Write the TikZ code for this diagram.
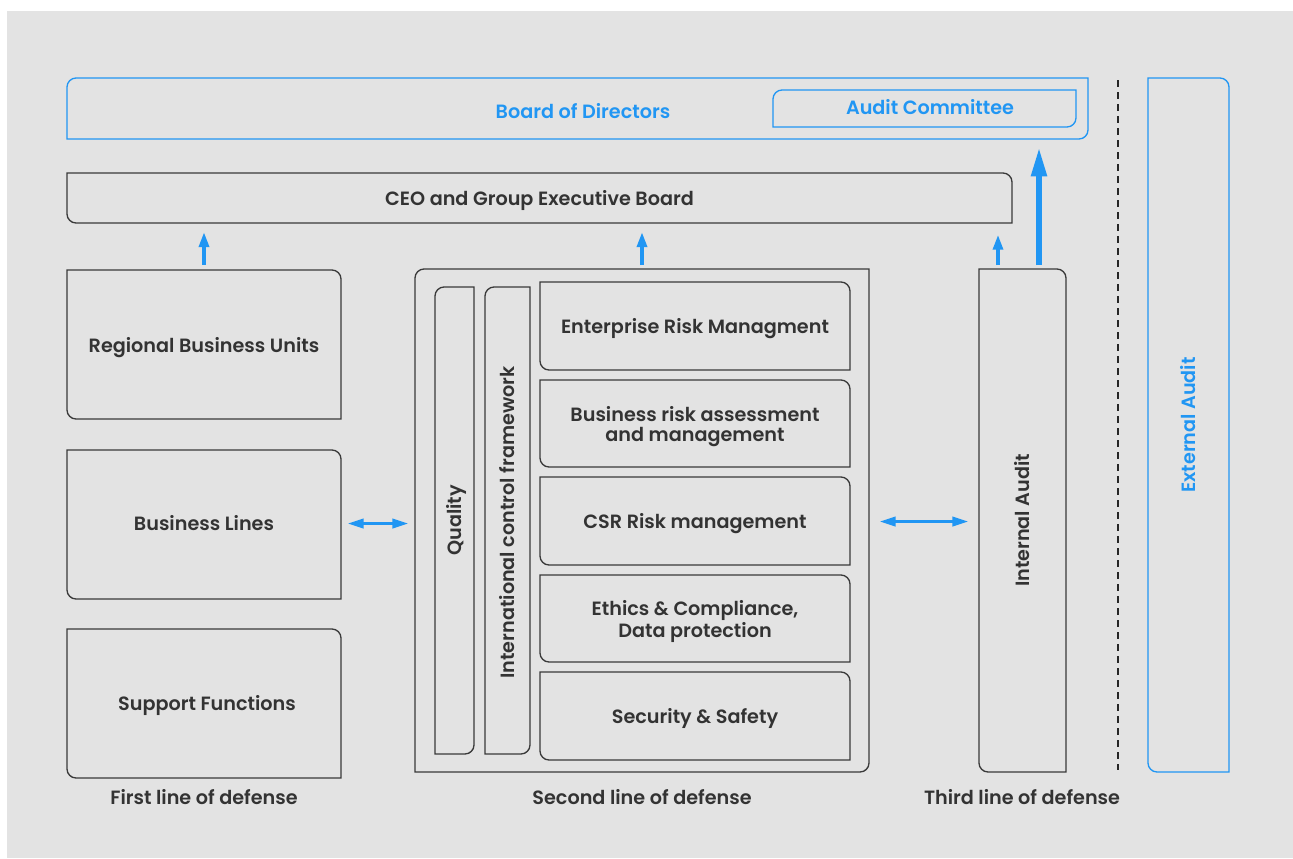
\documentclass[tikz,border=0pt]{standalone}
\usepackage{fontspec}
\setmainfont{Poppins}[BoldFont={* SemiBold}]
\usepackage{graphicx}
\usetikzlibrary{calc,fit,arrows.meta}
\definecolor{bg}{HTML}{E3E3E3}
\definecolor{blu}{RGB}{33,150,243}
\definecolor{ink}{HTML}{333333}
\definecolor{edge}{HTML}{3A3A3A}
\def\rr{9}
% outline with rounded top-right and bottom-left corners
\newcommand\otrbl[2]{\draw[#1] (#2.north west) -- ($(#2.north east)+(-\rr,0)$)
  .. controls ($(#2.north east)+(-0.45*\rr,0)$) and ($(#2.north east)+(0,0.45*\rr)$) .. ($(#2.north east)+(0,\rr)$)
  -- (#2.south east) -- ($(#2.south west)+(\rr,0)$)
  .. controls ($(#2.south west)+(0.45*\rr,0)$) and ($(#2.south west)+(0,-0.45*\rr)$) .. ($(#2.south west)+(0,-\rr)$)
  -- cycle;}
% outline with rounded top-left and bottom-right corners
\newcommand\otlbr[2]{\draw[#1] (#2.south west) -- ($(#2.north west)+(0,\rr)$)
  .. controls ($(#2.north west)+(0,0.45*\rr)$) and ($(#2.north west)+(0.45*\rr,0)$) .. ($(#2.north west)+(\rr,0)$)
  -- (#2.north east) -- ($(#2.south east)+(0,-\rr)$)
  .. controls ($(#2.south east)+(0,-0.45*\rr)$) and ($(#2.south east)+(-0.45*\rr,0)$) .. ($(#2.south east)+(-\rr,0)$)
  -- cycle;}
\tikzset{
  frame/.style={inner sep=0pt, outer sep=0pt},
  txt/.style={inner sep=0pt, align=center, text=ink, font=\fontsize{14.4}{15}\selectfont\bfseries},
  boxtxt/.style={txt, yshift=-2.25pt},
  btxt/.style={txt, text=blu},
  kline/.style={draw=edge, line width=1pt},
  bline/.style={draw=blu, line width=1pt},
  uparrow/.style={draw=blu, line width=2.4pt, -{Triangle[length=11pt,width=7.5pt]}},
  bigarrow/.style={draw=blu, line width=4.5pt, -{Triangle[length=22pt,width=11pt]}},
  dblarrow/.style={draw=blu, line width=2.2pt, {Triangle[length=12pt,width=7pt]}-{Triangle[length=12pt,width=7pt]}},
  caption/.style={txt}
}
\begin{document}
\begin{tikzpicture}[x=0.75pt,y=-0.75pt]
\useasboundingbox (0,0) rectangle (1293,858);
\fill[white] (0,0) rectangle (1293,858);
\fill[bg] (7,11) rectangle (1293,858);

% top level
\node[frame, fit={(67,78) (1088,139)}] (board) {};
\otlbr{bline}{board}
\node[btxt] (boardt) at (583,111) {Board of Directors};
\node[frame, fit={(773,90) (1076,127)}] (audit) {};
\otlbr{bline}{audit}
\node[btxt] (auditt) at (930,107) {Audit Committee};

\node[frame, fit={(67,173) (1012,223)}] (ceo) {};
\otrbl{kline}{ceo}
\node[boxtxt] (ceot) at (ceo.center) {CEO and Group Executive Board};

% first line
\node[frame, fit={(67,270) (341,419)}] (rbu) {};
\otrbl{kline}{rbu}
\node[boxtxt] (rbut) at (rbu.center) {Regional Business Units};
\node[frame, fit={(67,450) (341,599)}] (bl) {};
\otrbl{kline}{bl}
\node[txt] (blt) at ($(bl.center)+(0,-1)$) {Business Lines};
\node[frame, fit={(67,629) (341,778)}] (sf) {};
\otrbl{kline}{sf}
\node[boxtxt] (sft) at ($(sf.center)+(3,-1)$) {Support Functions};

% second line
\node[frame, fit={(415,269) (869,772)}] (sec) {};
\otlbr{kline}{sec}
\node[frame, fit={(435,287) (474,754)}] (qual) {};
\otlbr{kline}{qual}
\node[txt, rotate=90] (qualt) at ($(qual.center)+(2,0)$) {Quality};
\node[frame, fit={(485,287) (530,754)}] (icf) {};
\otlbr{kline}{icf}
\node[txt, rotate=90] (icft) at ($(icf.center)+(0,2)$) {International control framework};
\node[frame, fit={(540,282) (850,370)}] (erm) {};
\otrbl{kline}{erm}
\node[boxtxt] (ermt) at (erm.center) {Enterprise Risk Managment};
\node[frame, fit={(540,380) (850,467)}] (bra) {};
\otrbl{kline}{bra}
\node[boxtxt] (brat) at (bra.center) {Business risk assessment\\and management};
\node[frame, fit={(540,477) (850,565)}] (csr) {};
\otrbl{kline}{csr}
\node[boxtxt] (csrt) at (csr.center) {CSR Risk management};
\node[frame, fit={(540,575) (850,662)}] (eth) {};
\otrbl{kline}{eth}
\node[boxtxt] (etht) at (eth.center) {Ethics \& Compliance,\\Data protection};
\node[frame, fit={(540,672) (850,760)}] (ss) {};
\otrbl{kline}{ss}
\node[boxtxt] (sst) at ($(ss.center)+(0,-1)$) {Security \& Safety};

% third line
\node[frame, fit={(979,269) (1066,772)}] (ia) {};
\otrbl{kline}{ia}
\node[txt, rotate=90] (iat) at ($(ia.center)+(0,0)$) {Internal Audit};

% external audit
\node[frame, fit={(1148,78) (1229,772)}] (ea) {};
\otrbl{bline}{ea}
\node[btxt, rotate=90] (eat) at (1188,425) {External Audit};

% dashed separator
\coordinate (dtop) at (1118,80);
\coordinate (dbot) at (1118,770);
\draw[draw=black!85, line width=1.6pt, dash pattern=on 5pt off 4pt] (dtop) -- (dbot);

% arrows
\draw[uparrow, shorten <=4pt, shorten >=7pt] (rbu.north) -- (rbu.north |- ceo.south);
\draw[uparrow, shorten <=3pt, shorten >=7pt] (sec.north) -- (sec.north |- ceo.south);
\coordinate (iaL) at ($(ia.north west)+(19,0)$);
\coordinate (iaR) at ($(ia.north west)+(60,0)$);
\draw[uparrow, shorten <=3pt, shorten >=9pt] (iaL) -- (iaL |- ceo.south);
\draw[bigarrow, shorten <=3pt, shorten >=6pt] (iaR) -- (iaR |- board.south);
\draw[dblarrow, shorten <=5pt, shorten >=5pt] ($(bl.east)+(0,-1)$) -- ($(bl.east -| sec.west)+(0,-1)$);
\draw[dblarrow, shorten <=8pt, shorten >=8pt] ($(sec.east)+(0,1)$) -- ($(sec.east -| ia.west)+(0,1)$);

% captions
\node[caption] (c1) at (204,797) {First line of defense};
\node[caption] (c2) at (642,797) {Second line of defense};
\node[caption] (c3) at (1022,797) {Third line of defense};
\end{tikzpicture}
\end{document}
